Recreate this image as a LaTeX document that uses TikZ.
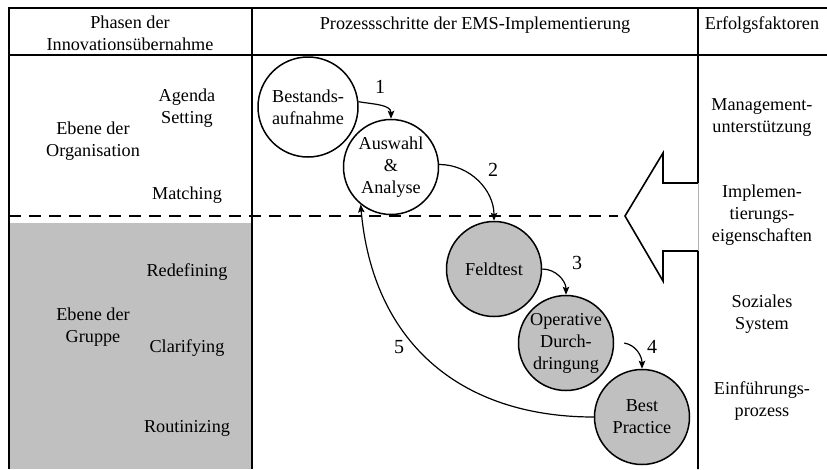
\documentclass[tikz,border=0pt]{standalone}
\usepackage{fontspec}
\setmainfont{Liberation Serif}
\usetikzlibrary{arrows.meta}

\definecolor{phasegray}{RGB}{192,192,192}

\tikzset{
  schritt/.style={circle, draw=black, line width=1.5pt, minimum size=95pt, inner sep=0pt, align=center},
  schrittgrau/.style={schritt, fill=phasegray},
  rahmen/.style={line width=1.6pt},
  pfeil/.style={line width=1.2pt, -{Stealth[length=8pt, width=6.5pt, inset=1.5pt]}},
  txt/.style={align=center},
  nummer/.style={font=\fontsize{20}{24}\selectfont}
}

\begin{document}
\begin{tikzpicture}[x=1pt, y=1pt, font=\fontsize{18.2}{22}\selectfont]
\useasboundingbox (0,0) rectangle (827,-469);

% gray area of the group level
\fill[phasegray] (9,-223) rectangle (252,-469);

% table frame and columns
\draw[rahmen] (9,-469) -- (9,-8) -- (827,-8);
\draw[rahmen] (9,-55) -- (827,-55);
\draw[rahmen] (252,-8) -- (252,-469);
\draw[rahmen] (698,-8) -- (698,-183) -- (663,-183) -- (663,-153) -- (625,-216)
  -- (663,-281) -- (663,-251) -- (698,-251) -- (698,-469);
\draw[gray!60, line width=0.6pt] (698,-183) -- (698,-251);

% border between organisation and group
\draw[rahmen, dash pattern=on 12pt off 8pt] (9,-216) -- (618,-216);

% headers
\node[txt] (phasen) at (130,-33) {Phasen der\\Innovationsübernahme};
\node[txt] (prozess) at (475,-25) {Prozessschritte der EMS-Implementierung};
\node[txt] (erfolg) at (762,-25) {Erfolgsfaktoren};

% phases
\node[txt] (orgebene) at (93,-141) {Ebene der\\Organisation};
\node[txt] (agenda) at (187,-108) {Agenda\\Setting};
\node[txt] (matching) at (187,-195) {Matching};
\node[txt] (grpebene) at (93,-327) {Ebene der\\Gruppe};
\node[txt] (redef) at (187,-272) {Redefining};
\node[txt] (clarif) at (187,-348) {Clarifying};
\node[txt] (routin) at (187,-428) {Routinizing};

% success factors
\node[txt] (mgmt) at (762,-118) {Management-\\unterstützung};
\node[txt] (impl) at (762,-215) {Implemen-\\tierungs-\\eigenschaften};
\node[txt] (sozial) at (762,-314) {Soziales\\System};
\node[txt] (einf) at (762,-401) {Einführungs-\\prozess};

% process steps
\node[schritt, minimum size=100pt] (bestand) at (308,-107) {Bestands-\\aufnahme};
\node[schritt] (auswahl) at (391,-167) {Auswahl\\\&\\Analyse};
\node[schrittgrau] (feldtest) at (494,-269) {Feldtest};
\node[schrittgrau] (operativ) at (566,-343) {Operative\\Durch-\\dringung};
\node[schrittgrau] (best) at (642,-417) {Best\\Practice};

\draw[pfeil] (bestand.6) to[out=-10, in=90] (auswahl.north);
\draw[pfeil] (auswahl.3) to[out=0, in=90] (feldtest.north);
\draw[pfeil] (feldtest.east) to[out=0, in=90] (operativ.north);
\draw[pfeil] ([xshift=10pt]operativ.east) to[out=-10, in=90] (best.north);
\draw[pfeil] (best.west) to[out=180, in=-85, looseness=1.1] (auswahl.231);

\node[nummer] (n1) at (380,-87) {1};
\node[nummer] (n2) at (493,-170) {2};
\node[nummer] (n3) at (577,-263) {3};
\node[nummer] (n4) at (652,-347) {4};
\node[nummer] (n5) at (399,-347) {5};

\end{tikzpicture}
\end{document}
